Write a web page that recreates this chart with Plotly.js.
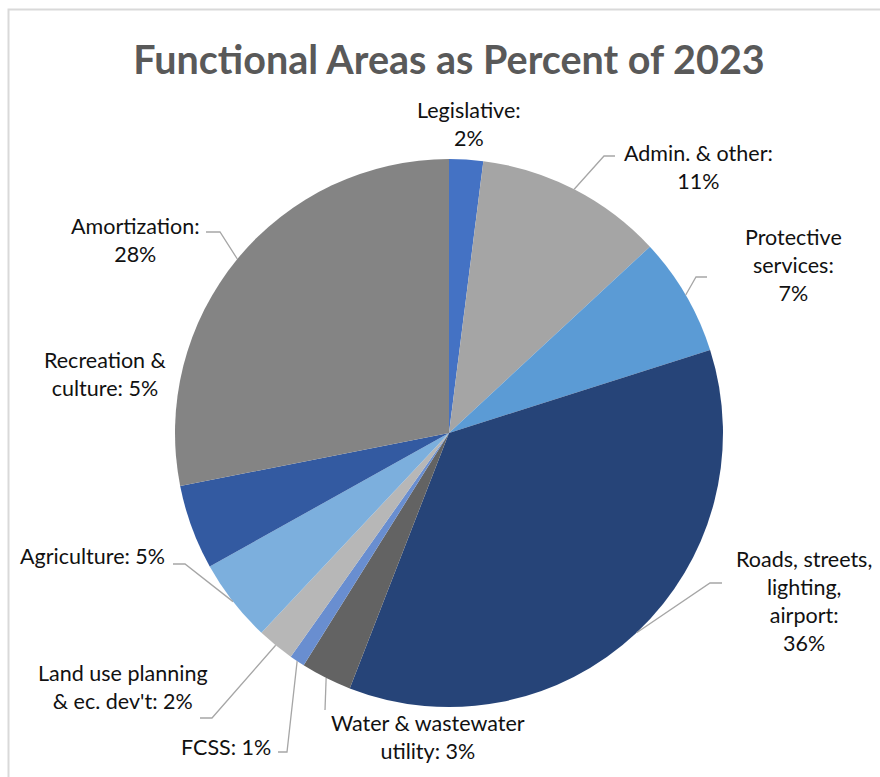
<!DOCTYPE html>
<html><head><meta charset="utf-8">
<script src="https://cdn.plot.ly/plotly-3.0.1.min.js"></script>
<style>html,body{margin:0;padding:0;background:#fff}#chart{width:880px;height:777px}</style>
</head><body><div id="chart"></div>
<script>
// ---- data ----
const categories = ["Legislative", "Admin. & other", "Protective services",
  "Roads, streets, lighting, airport", "Water & wastewater utility", "FCSS",
  "Land use planning & ec. dev't", "Agriculture", "Recreation & culture", "Amortization"];
const percentValues = [2.0, 11.1, 7.0, 35.8, 3.0, 0.9, 2.2, 4.9, 5.0, 28.1];
const labelLines = [
  ["Legislative:", "2%"],
  ["Admin. & other:", "11%"],
  ["Protective", "services:", "7%"],
  ["Roads, streets,", "lighting,", "airport:", "36%"],
  ["Water & wastewater", "utility: 3%"],
  ["FCSS: 1%"],
  ["Land use planning", "& ec. dev't: 2%"],
  ["Agriculture: 5%"],
  ["Recreation &", "culture: 5%"],
  ["Amortization:", "28%"]
];
const sliceColors = ["#4472C4", "#A5A5A5", "#5B9BD5", "#264478", "#636363",
  "#698ED0", "#B7B7B7", "#7CAFDD", "#335AA1", "#848484"];

// ---- layout geometry (pixels) ----
const W = 880, H = 777;
const cx = 449, cy = 433, R = 274;
const px = x => x / W, py = y => 1 - y / H;

// label centre positions and leader elbows/ends (null = no leader)
const labelPos = [
  [469, 124], [698, 167], [793, 265], [804, 601], [428, 737],
  [226, 747], [123, 687], [92, 556], [105, 374], [135, 240]
];
const leaderElbow = [
  null, [604, 156], [696, 277], [710, 583], [325, 710],
  [287, 752], [212, 718], [185, 564], null, [220, 232]
];
const leaderEnd = [
  null, [615, 156], [707, 277], [722, 583], null,
  [278, 752], [200, 718], [173, 564], null, [206, 232]
];

const total = percentValues.reduce((a, b) => a + b, 0);
let cum = 0;
const shapes = [];
const annotations = [];
percentValues.forEach((v, i) => {
  const mid = (cum + v / 2) / total * 2 * Math.PI;
  cum += v;
  const sx = cx + R * Math.sin(mid), sy = cy - R * Math.cos(mid);
  if (leaderElbow[i]) {
    let path = `M${px(sx)},${py(sy)} L${px(leaderElbow[i][0])},${py(leaderElbow[i][1])}`;
    if (leaderEnd[i]) path += ` L${px(leaderEnd[i][0])},${py(leaderEnd[i][1])}`;
    shapes.push({type: "path", xref: "paper", yref: "paper", path: path,
      line: {color: "#A6A6A6", width: 1.3}});
  }
  annotations.push({
    xref: "paper", yref: "paper", x: px(labelPos[i][0]), y: py(labelPos[i][1]),
    xanchor: "center", yanchor: "middle", showarrow: false, align: "center",
    text: labelLines[i].join("<br>"),
    font: {family: "Lato, 'Open Sans', sans-serif", size: 21.5, color: "#111111"}
  });
});

shapes.push({type: "rect", xref: "paper", yref: "paper",
  x0: px(8.5), y0: py(800), x1: px(900), y1: py(9.5), line: {color: "#D9D9D9", width: 2}, layer: "below"});

const trace = {
  type: "pie", labels: categories, values: percentValues, sort: false,
  direction: "clockwise", rotation: 0, textinfo: "none", hoverinfo: "label+percent",
  marker: {colors: sliceColors, line: {width: 0}},
  domain: {x: [px(cx - R), px(cx + R)], y: [py(cy + R), py(cy - R)]},
  showlegend: false
};

const layout = {
  width: W, height: H, margin: {l: 0, r: 0, t: 0, b: 0},
  paper_bgcolor: "#fff", showlegend: false,
  title: {text: "<b>Functional Areas as Percent of 2023</b>", x: px(449), xanchor: "center",
    y: py(60), yanchor: "middle", yref: "paper",
    font: {family: "Lato, 'Open Sans', sans-serif", size: 39.5, color: "#595959"}},
  shapes: shapes, annotations: annotations
};
Plotly.newPlot("chart", [trace], layout, {displayModeBar: false, staticPlot: true});
</script></body></html>
